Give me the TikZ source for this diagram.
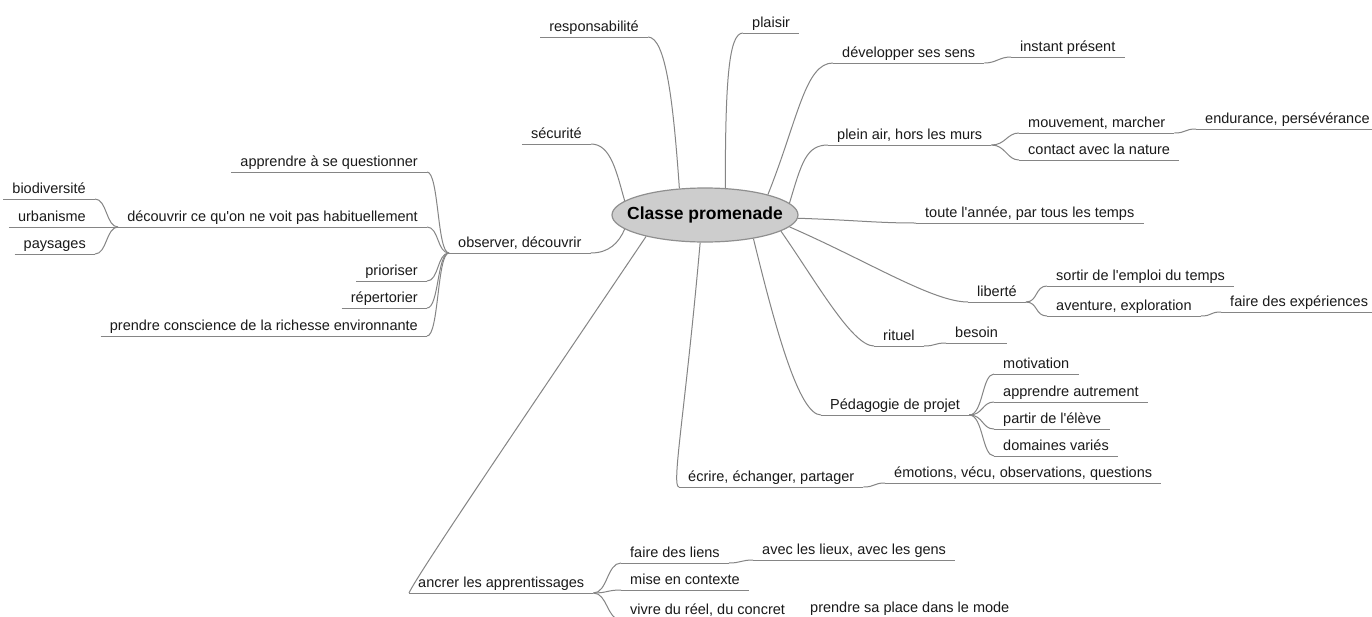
\documentclass[tikz,border=0pt]{standalone}
\usepackage{fontspec}
\setmainfont{Liberation Sans}
\usetikzlibrary{shapes.geometric}
\definecolor{linegray}{HTML}{858585}
\definecolor{txt}{HTML}{1A1A1A}
\definecolor{ellfill}{HTML}{CDCDCD}
\definecolor{elldraw}{HTML}{8F8F8F}
\begin{document}
\begin{tikzpicture}[x=1pt,y=-1pt,
  topic/.style={inner xsep=9pt, inner ysep=2pt, text height=10.5pt, text depth=3pt, font=\fontsize{14.5}{17}\selectfont, text=txt},
  R/.style={topic, anchor=south west},
  L/.style={topic, anchor=south east},
  link/.style={draw=linegray, line width=1pt},
  rootnode/.style={ellipse, draw=elldraw, fill=ellfill, line width=1.2pt, minimum width=186pt, minimum height=54pt, inner sep=0pt, font=\bfseries\fontsize{17.5}{20}\selectfont, text=black}
]
\fill[white] (0,0) rectangle (1372,616);
\useasboundingbox (0,0) rectangle (1372,616);

% right-side topics
\node[R] (dev) at (833,63) {développer ses sens};
\node[R] (inst) at (1011,57) {instant présent};
\node[R] (plai) at (743,33) {plaisir};
\node[R] (plein) at (828,145) {plein air, hors les murs};
\node[R] (mouv) at (1019,133) {mouvement, marcher};
\node[R] (endu) at (1196,129) {endurance, persévérance};
\node[R] (cont) at (1019,160) {contact avec la nature};
\node[R] (toute) at (916,223) {toute l\textquotesingle année, par tous les temps};
\node[R] (lib) at (968,302) {liberté};
\node[R] (sort) at (1047,286) {sortir de l\textquotesingle emploi du temps};
\node[R] (avent) at (1047,316) {aventure, exploration};
\node[R] (exper) at (1221,312) {faire des expériences};
\node[R] (rit) at (874,346) {rituel};
\node[R] (bes) at (946,343) {besoin};
\node[R] (peda) at (821,415) {Pédagogie de projet};
\node[R] (motiv) at (994,374) {motivation};
\node[R] (autr) at (994,402) {apprendre autrement};
\node[R] (part) at (994,429) {partir de l\textquotesingle élève};
\node[R] (dom) at (994,456) {domaines variés};
\node[R] (ecr) at (679,487) {écrire, échanger, partager};
\node[R] (emo) at (885,483) {émotions, vécu, observations, questions};
\node[R] (anc) at (409,593) {ancrer les apprentissages};
\node[R] (liens) at (621,563) {faire des liens};
\node[R] (avec) at (753,560) {avec les lieux, avec les gens};
\node[R] (ctx) at (621,590) {mise en contexte};
\node[R] (reel) at (621,620) {vivre du réel, du concret};
\node[R] (place) at (801,618) {prendre sa place dans le mode};
\node[R] (obs) at (449,253) {observer, découvrir};

% left-side topics
\node[L] (resp) at (648,37) {responsabilité};
\node[L] (secu) at (591,144) {sécurité};
\node[L] (quest) at (427,172) {apprendre à se questionner};
\node[L] (decv) at (427,227) {découvrir ce qu\textquotesingle on ne voit pas habituellement};
\node[L] (prio) at (427,281) {prioriser};
\node[L] (rep) at (427,308) {répertorier};
\node[L] (consc) at (427,336) {prendre conscience de la richesse environnante};
\node[L] (bio) at (95,199) {biodiversité};
\node[L] (urb) at (95,227) {urbanisme};
\node[L] (pays) at (95,254) {paysages};

% underlines
\foreach \n in {dev,inst,plai,plein,mouv,endu,cont,toute,lib,sort,avent,exper,rit,bes,peda,motiv,autr,part,dom,ecr,emo,anc,liens,avec,ctx,reel,place,obs,resp,secu,quest,decv,prio,rep,consc,bio,urb,pays}
  \draw[link] (\n.south west) -- (\n.south east);

% central topic
\node[rootnode] (root) at (705,215) {\makebox[0pt]{Classe promenade}};

% main branches
\draw[link] (root.134) .. controls +(-6,-85) and +(18,0) .. (resp.south east);
\draw[link] (root.53) .. controls +(0,-110) and +(-14,0) .. (plai.south west);
\draw[link] (root.18) .. controls +(30,-75) and +(-28,0) .. (dev.south west);
\draw[link] (root.170) .. controls +(-8,-28) and +(20,0) .. (secu.south east);
\draw[link] (root.8) .. controls +(12,-40) and +(-22,0) .. (plein.south west);
\draw[link] (root.-2) .. controls +(60,2) and +(-40,0) .. (toute.south west);
\draw[link] (root.-8) .. controls +(80,35) and +(-35,0) .. (lib.south west);
\draw[link] (root.-12) .. controls +(35,50) and +(-22,0) .. (rit.south west);
\draw[link] (root.-26) .. controls +(22,90) and +(-22,0) .. (peda.south west);
\draw[link] (root.-100) .. controls +(-15,170) and +(-8,0) .. (ecr.south west);
\draw[link] (root.200) .. controls +(-120,178) and +(8,-18) .. (anc.south west);
\draw[link] (root.190) .. controls +(-6,14) and +(18,0) .. (obs.south east);

% sub-branches
\draw[link] (dev.south east) .. controls +(12,0) and +(-12,0) .. (inst.south west);
\foreach \c in {mouv,cont}
  \draw[link] (plein.south east) .. controls +(14,0) and +(-12,0) .. (\c.south west);
\draw[link] (mouv.south east) .. controls +(12,0) and +(-12,0) .. (endu.south west);
\foreach \c in {sort,avent}
  \draw[link] (lib.south east) .. controls +(12,0) and +(-12,0) .. (\c.south west);
\draw[link] (avent.south east) .. controls +(12,0) and +(-12,0) .. (exper.south west);
\draw[link] (rit.south east) .. controls +(12,0) and +(-12,0) .. (bes.south west);
\foreach \c in {motiv,autr,part,dom}
  \draw[link] (peda.south east) .. controls +(14,0) and +(-12,0) .. (\c.south west);
\draw[link] (ecr.south east) .. controls +(12,0) and +(-12,0) .. (emo.south west);
\foreach \c in {liens,ctx,reel}
  \draw[link] (anc.south east) .. controls +(14,0) and +(-14,0) .. (\c.south west);
\draw[link] (liens.south east) .. controls +(12,0) and +(-12,0) .. (avec.south west);
\draw[link] (reel.south east) .. controls +(4,0) and +(-4,0) .. (place.south west);
\foreach \c in {quest,decv,prio,rep,consc}
  \draw[link] (obs.south west) .. controls +(-12,0) and +(12,0) .. (\c.south east);
\foreach \c in {bio,urb,pays}
  \draw[link] (decv.south west) .. controls +(-12,0) and +(12,0) .. (\c.south east);
\end{tikzpicture}
\end{document}
